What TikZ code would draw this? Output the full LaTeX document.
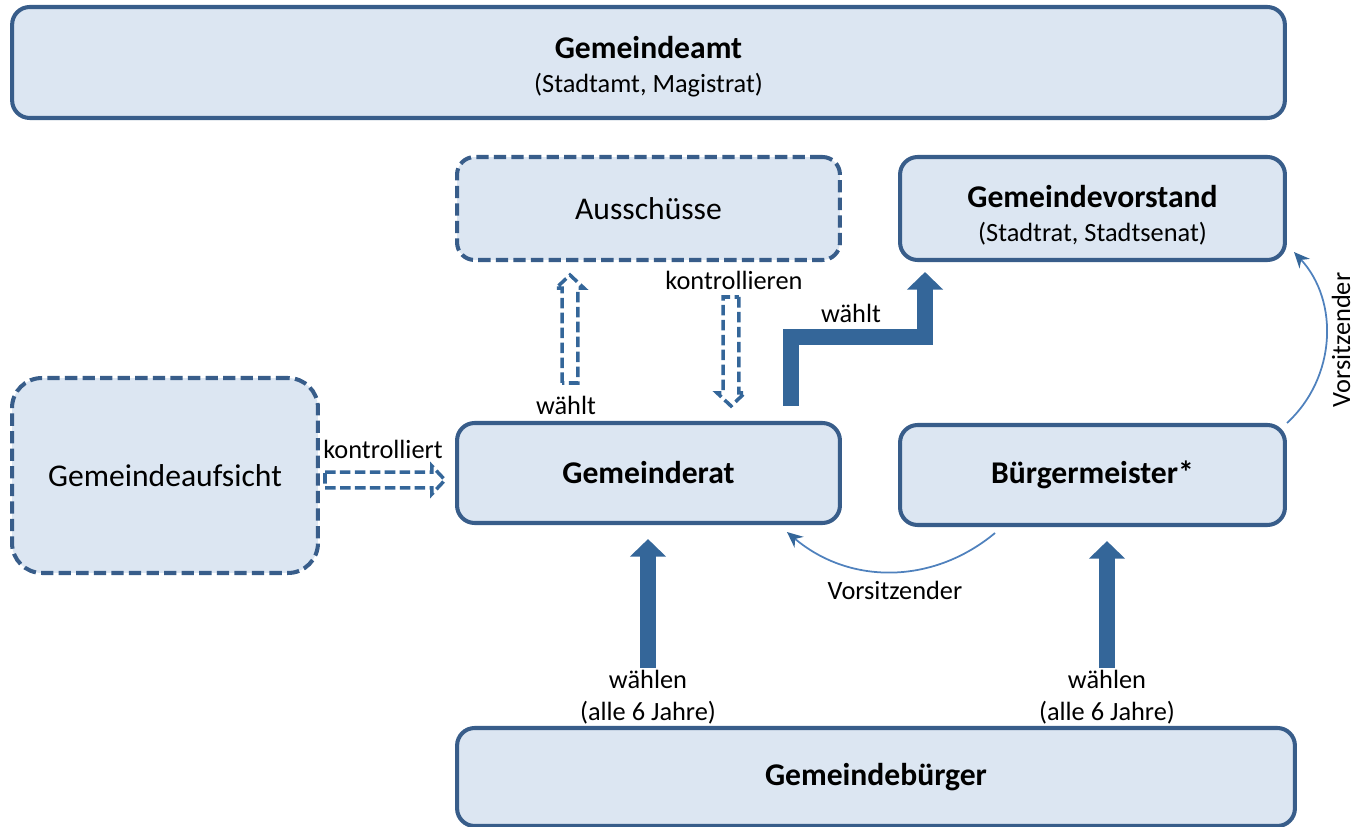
\documentclass[tikz,border=0pt]{standalone}
\usepackage{fontspec}
\setmainfont{Carlito}
\usetikzlibrary{arrows.meta,calc}
\definecolor{boxfill}{RGB}{220,230,242}
\definecolor{boxline}{RGB}{56,93,138}
\definecolor{arrowfill}{RGB}{52,102,153}
\definecolor{curveline}{RGB}{79,129,189}
\newcommand{\subtext}{\fontsize{15}{18}\selectfont}

\begin{document}
\begin{tikzpicture}[x=0.02cm, y=-0.02cm,
		box/.style={draw=boxline, fill=boxfill, line width=2.3pt, rounded corners=10pt, align=center, font=\fontsize{18}{22}\selectfont},
		dashbox/.style={box, dash pattern=on 7pt off 3pt},
		note/.style={font=\subtext, align=center, inner sep=1pt},
		fatarrow/.style={draw=arrowfill, line width=9pt, -{Triangle[width=20pt,length=10pt]}},
		thinarrow/.style={draw=curveline, line width=1pt, -{Stealth[length=9pt,width=8pt,color=arrowfill]}},
		hollow/.style={draw=arrowfill, line width=2pt, dash pattern=on 6pt off 2.5pt, to path={
			let \p1=(\tikztostart), \p2=(\tikztotarget), \p3=($(\p2)!7.5pt!(\p1)$) in
			($(\p1)!4.5pt!90:(\p2)$) -- ($(\p3)!4.5pt!-90:(\p1)$) -- ($(\p3)!8pt!-90:(\p1)$) -- (\p2)
			-- ($(\p3)!8pt!90:(\p1)$) -- ($(\p3)!4.5pt!90:(\p1)$) -- ($(\p1)!4.5pt!-90:(\p2)$) -- cycle}}]
	\useasboundingbox (0,0) rectangle (1363,827);

	\node[box, minimum width=25.46cm, minimum height=2.22cm] (amt) at (648.5,62.5)
		{\rule{0pt}{17.5pt}\textbf{Gemeindeamt}\\[-2.5pt]\subtext(Stadtamt, Magistrat)};
	\node[dashbox, minimum width=7.66cm, minimum height=2.06cm] (auss) at (648.5,208.5) {Ausschüsse};
	\node[box, minimum width=7.7cm, minimum height=2.06cm] (vorst) at (1092.5,208.5)
		{\rule{0pt}{20pt}\textbf{Gemeindevorstand}\\[-2.5pt]\subtext(Stadtrat, Stadtsenat)};
	\node[dashbox, rounded corners=17pt, minimum width=6.12cm, minimum height=3.9cm] (aufs) at (165,475.5) {Gemeindeaufsicht};
	\node[box, minimum width=7.66cm, minimum height=2cm] (rat) at (648.5,473) {\textbf{Gemeinderat}};
	\node[box, minimum width=7.7cm, minimum height=2cm] (bgm) at (1092.5,475) {\textbf{Bürgermeister*}};
	\node[box, minimum width=16.76cm, minimum height=1.96cm] (buerger) at (876,777) {\textbf{Gemeindebürger}};

	\node[note] (wl1) at (648,697) {wählen\\(alle 6 Jahre)};
	\node[note] (wl2) at (1107,697) {wählen\\(alle 6 Jahre)};
	\node[note] (wrl) at (566,405) {wählt};
	\node[note] (kon) at (734,280) {kontrollieren};
	\node[note] (kt) at (383,449) {kontrolliert};
	\node[note] (ws) at (851,313) {wählt};
	\node[note] (vs1) at (895,590) {Vorsitzender};
	\node[note, rotate=90] (vs2) at (1341,340) {Vorsitzender};

	\draw[fatarrow, shorten >=8pt] (wl1.north) -- (wl1.north |- rat.south);
	\draw[fatarrow, shorten >=8pt] (wl2.north) -- (wl2.north |- bgm.south);
	\coordinate (st) at (791,406);
	\draw[fatarrow, shorten >=5.7pt] (st) |- ($(vorst.south west)+(27,75)$) -- ($(vorst.south west)+(27,0)$);

	\coordinate (h1) at (570,383);
	\draw[hollow] (h1) to ($(h1 |- auss.south)+(0,13)$);
	\coordinate (h2) at (731,297);
	\draw[hollow] (h2) to ($(h2 |- rat.north)+(0,-15)$);
	\coordinate (h3) at (325,480);
	\draw[hollow] (h3) to ($(h3 -| rat.west)+(-10,0)$);

	\draw[thinarrow] ($(bgm.south west)+(97,6)$) to[bend left=40] ($(rat.south east)+(-55,7)$);
	\draw[thinarrow] (bgm.north east) to[bend right=45] ($(vorst.south east)+(7,-10)$);
\end{tikzpicture}
\end{document}
